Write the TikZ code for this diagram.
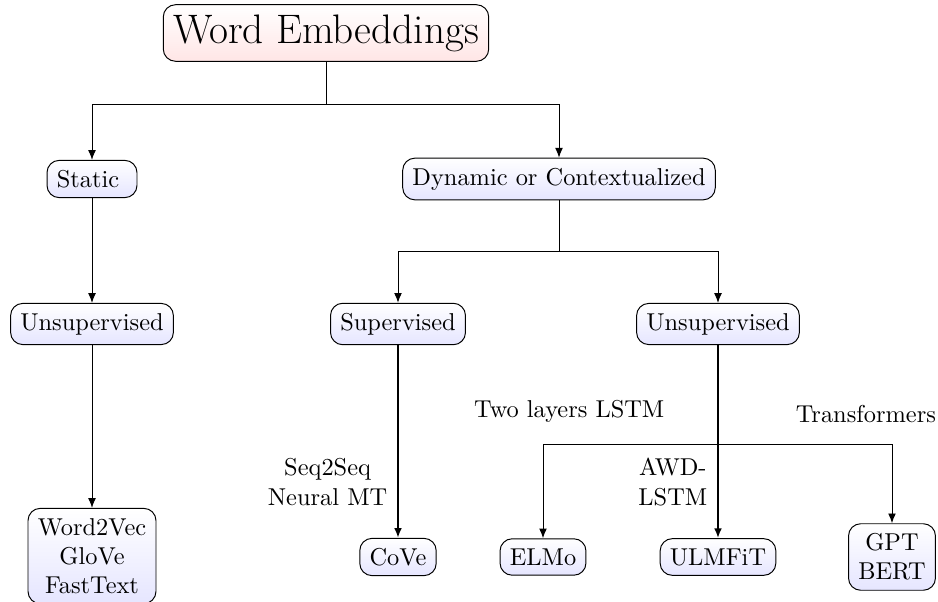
\documentclass[tikz,border=0pt]{standalone}
\usetikzlibrary{arrows.meta}

\begin{document}
\begin{tikzpicture}[
  x=0.41pt, y=-0.41pt,
  font=\normalsize,
  cat/.style  ={rectangle, rounded corners=5pt, draw=black, top color=white,
                bottom color=blue!10, inner sep=4pt, align=center},
  root/.style ={cat, bottom color=red!10, font=\fontsize{16.9}{20}\selectfont},
  arr/.style  ={-{Latex[length=4pt,width=3.2pt]}, draw=black},
  lbl/.style  ={inner sep=1pt, align=center}
]
\useasboundingbox (0,0) rectangle (938,602);

\node[root] (we) at (326,33) {Word Embeddings};

\node[cat] (static) at (92,179) {Static\ };
\node[cat] (dyn)    at (559,179) {Dynamic or Contextualized};

\node[cat] (unsupl) at (92,324)  {Unsupervised};
\node[cat] (sup)    at (398,324) {Supervised};
\node[cat] (unsupr) at (718,324) {Unsupervised};

\node[cat] (w2v)  at (92,556)  {Word2Vec\\GloVe\\FastText};
\node[cat] (cove) at (398,557) {CoVe};
\node[cat] (elmo) at (543,557) {ELMo};
\node[cat] (ulm)  at (718,557) {ULMFiT};
\node[cat] (gpt)  at (892,557) {GPT\\BERT};

% first split
\draw (we.south) -- ++(0,43) coordinate (j0);
\draw[arr] (j0) -| (static);
\draw[arr] (j0) -| (dyn);

% static branch
\draw[arr] (static) -- (unsupl);
\draw[arr] (unsupl) -- (w2v);

% dynamic branch
\draw (dyn.south) -- ++(0,51) coordinate (j1);
\draw[arr] (j1) -| (sup);
\draw[arr] (j1) -| (unsupr);

\draw[arr, thick] (sup) -- node[lbl, left=3pt, pos=0.71] (lseq) {Seq2Seq\\Neural MT} (cove);
\draw[arr, thick] (unsupr) -- node[lbl, left=3pt, pos=0.71] (lawd) {AWD-\\LSTM} (ulm);

\path (unsupr.south) ++(0,99) coordinate (j2);
\draw[arr] (j2) -| node[lbl, above=7.6pt, pos=0.425] (ltwo) {Two layers LSTM} (elmo);
\draw[arr] (j2) -| node[lbl, above=7.6pt, pos=0.425] (ltr) {Transformers} (gpt);
\end{tikzpicture}
\end{document}
